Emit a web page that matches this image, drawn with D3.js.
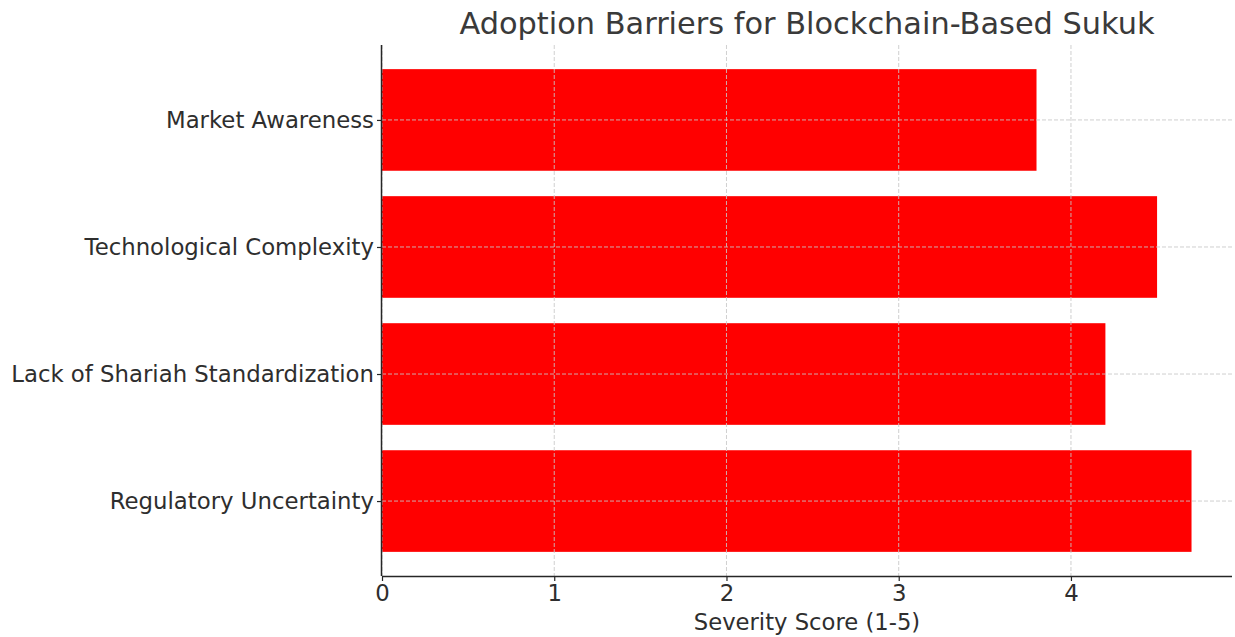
<!DOCTYPE html>
<html>
<head>
<meta charset="utf-8">
<script src="https://cdn.jsdelivr.net/npm/d3@7"></script>
<style>
  html, body { margin: 0; padding: 0; background: #fff; }
  svg { display: block; font-family: "DejaVu Sans", sans-serif; }
</style>
</head>
<body>
<svg id="chart" width="1235" height="637"></svg>
<script>
// Barrier categories, listed bottom to top
const categories = [
  "Regulatory Uncertainty",
  "Lack of Shariah Standardization",
  "Technological Complexity",
  "Market Awareness"
];
const severity = [4.7, 4.2, 4.5, 3.8];
const xTicks = [0, 1, 2, 3, 4];

const title = "Adoption Barriers for Blockchain-Based Sukuk";
const xLabel = "Severity Score (1-5)";

const W = 1235, H = 637;
const m = { left: 382, right: 3, top: 45, bottom: 61 };
const pw = W - m.left - m.right, ph = H - m.top - m.bottom;

const svg = d3.select("#chart");
const g = svg.append("g").attr("transform", `translate(${m.left},${m.top})`);

const barH = 0.8;
const xMax = d3.max(severity) * 1.05;
const x = d3.scaleLinear().domain([0, xMax]).range([0, pw]);
const pad = (categories.length - 1 + barH) * 0.05;
const y = d3.scaleLinear()
  .domain([-barH / 2 - pad, categories.length - 1 + barH / 2 + pad])
  .range([ph, 0]);

// bars
g.selectAll("rect.bar")
  .data(categories.map((c, i) => ({ c, v: severity[i], i })))
  .join("rect")
  .attr("class", "bar")
  .attr("x", x(0))
  .attr("y", d => y(d.i + barH / 2))
  .attr("width", d => x(d.v) - x(0))
  .attr("height", d => y(d.i - barH / 2) - y(d.i + barH / 2))
  .attr("fill", "#ff0000");

// dashed grid over the bars
const grid = g.append("g").attr("stroke", "#c8c8c8").attr("stroke-width", 1)
  .attr("stroke-dasharray", "4,2").attr("opacity", 0.85);
grid.selectAll("line.vx").data(xTicks).join("line")
  .attr("x1", d => x(d)).attr("x2", d => x(d))
  .attr("y1", 0).attr("y2", ph);
grid.selectAll("line.hy").data(categories.map((c, i) => i)).join("line")
  .attr("x1", 0).attr("x2", pw)
  .attr("y1", d => y(d)).attr("y2", d => y(d));

const textColor = "#2e2e2e";

// x axis
const xAxis = g.append("g").attr("transform", `translate(0,${ph})`)
  .call(d3.axisBottom(x).tickValues(xTicks).tickFormat(d3.format("d"))
    .tickSizeInner(5).tickSizeOuter(0).tickPadding(4));
xAxis.select(".domain").attr("stroke", "#262626").attr("stroke-width", 1.5)
  .attr("d", `M0,0.5H${pw}`);
xAxis.selectAll(".tick line").attr("stroke", "#262626").attr("stroke-width", 1.2);
xAxis.selectAll(".tick text").attr("fill", textColor)
  .style("font-size", "22.8px").style("font-family", "DejaVu Sans");

// y axis
const yAxis = g.append("g")
  .call(d3.axisLeft(y).tickValues(categories.map((c, i) => i))
    .tickFormat(i => categories[i]).tickSizeInner(5).tickSizeOuter(0).tickPadding(3));
yAxis.select(".domain").attr("stroke", "#262626").attr("stroke-width", 1.5)
  .attr("d", `M-0.5,0V${ph}`);
yAxis.selectAll(".tick line").attr("stroke", "#262626").attr("stroke-width", 1.2);
yAxis.selectAll(".tick text").attr("fill", textColor)
  .style("font-size", "22.8px").style("font-family", "DejaVu Sans");

// title and axis label
svg.append("text")
  .attr("x", m.left + pw / 2).attr("y", 34)
  .attr("text-anchor", "middle")
  .attr("fill", "#3a3a3a")
  .style("font-size", "30.4px")
  .text(title);

svg.append("text")
  .attr("x", m.left + pw / 2).attr("y", 630)
  .attr("text-anchor", "middle")
  .attr("fill", textColor)
  .style("font-size", "22.7px")
  .text(xLabel);
</script>
</body>
</html>
